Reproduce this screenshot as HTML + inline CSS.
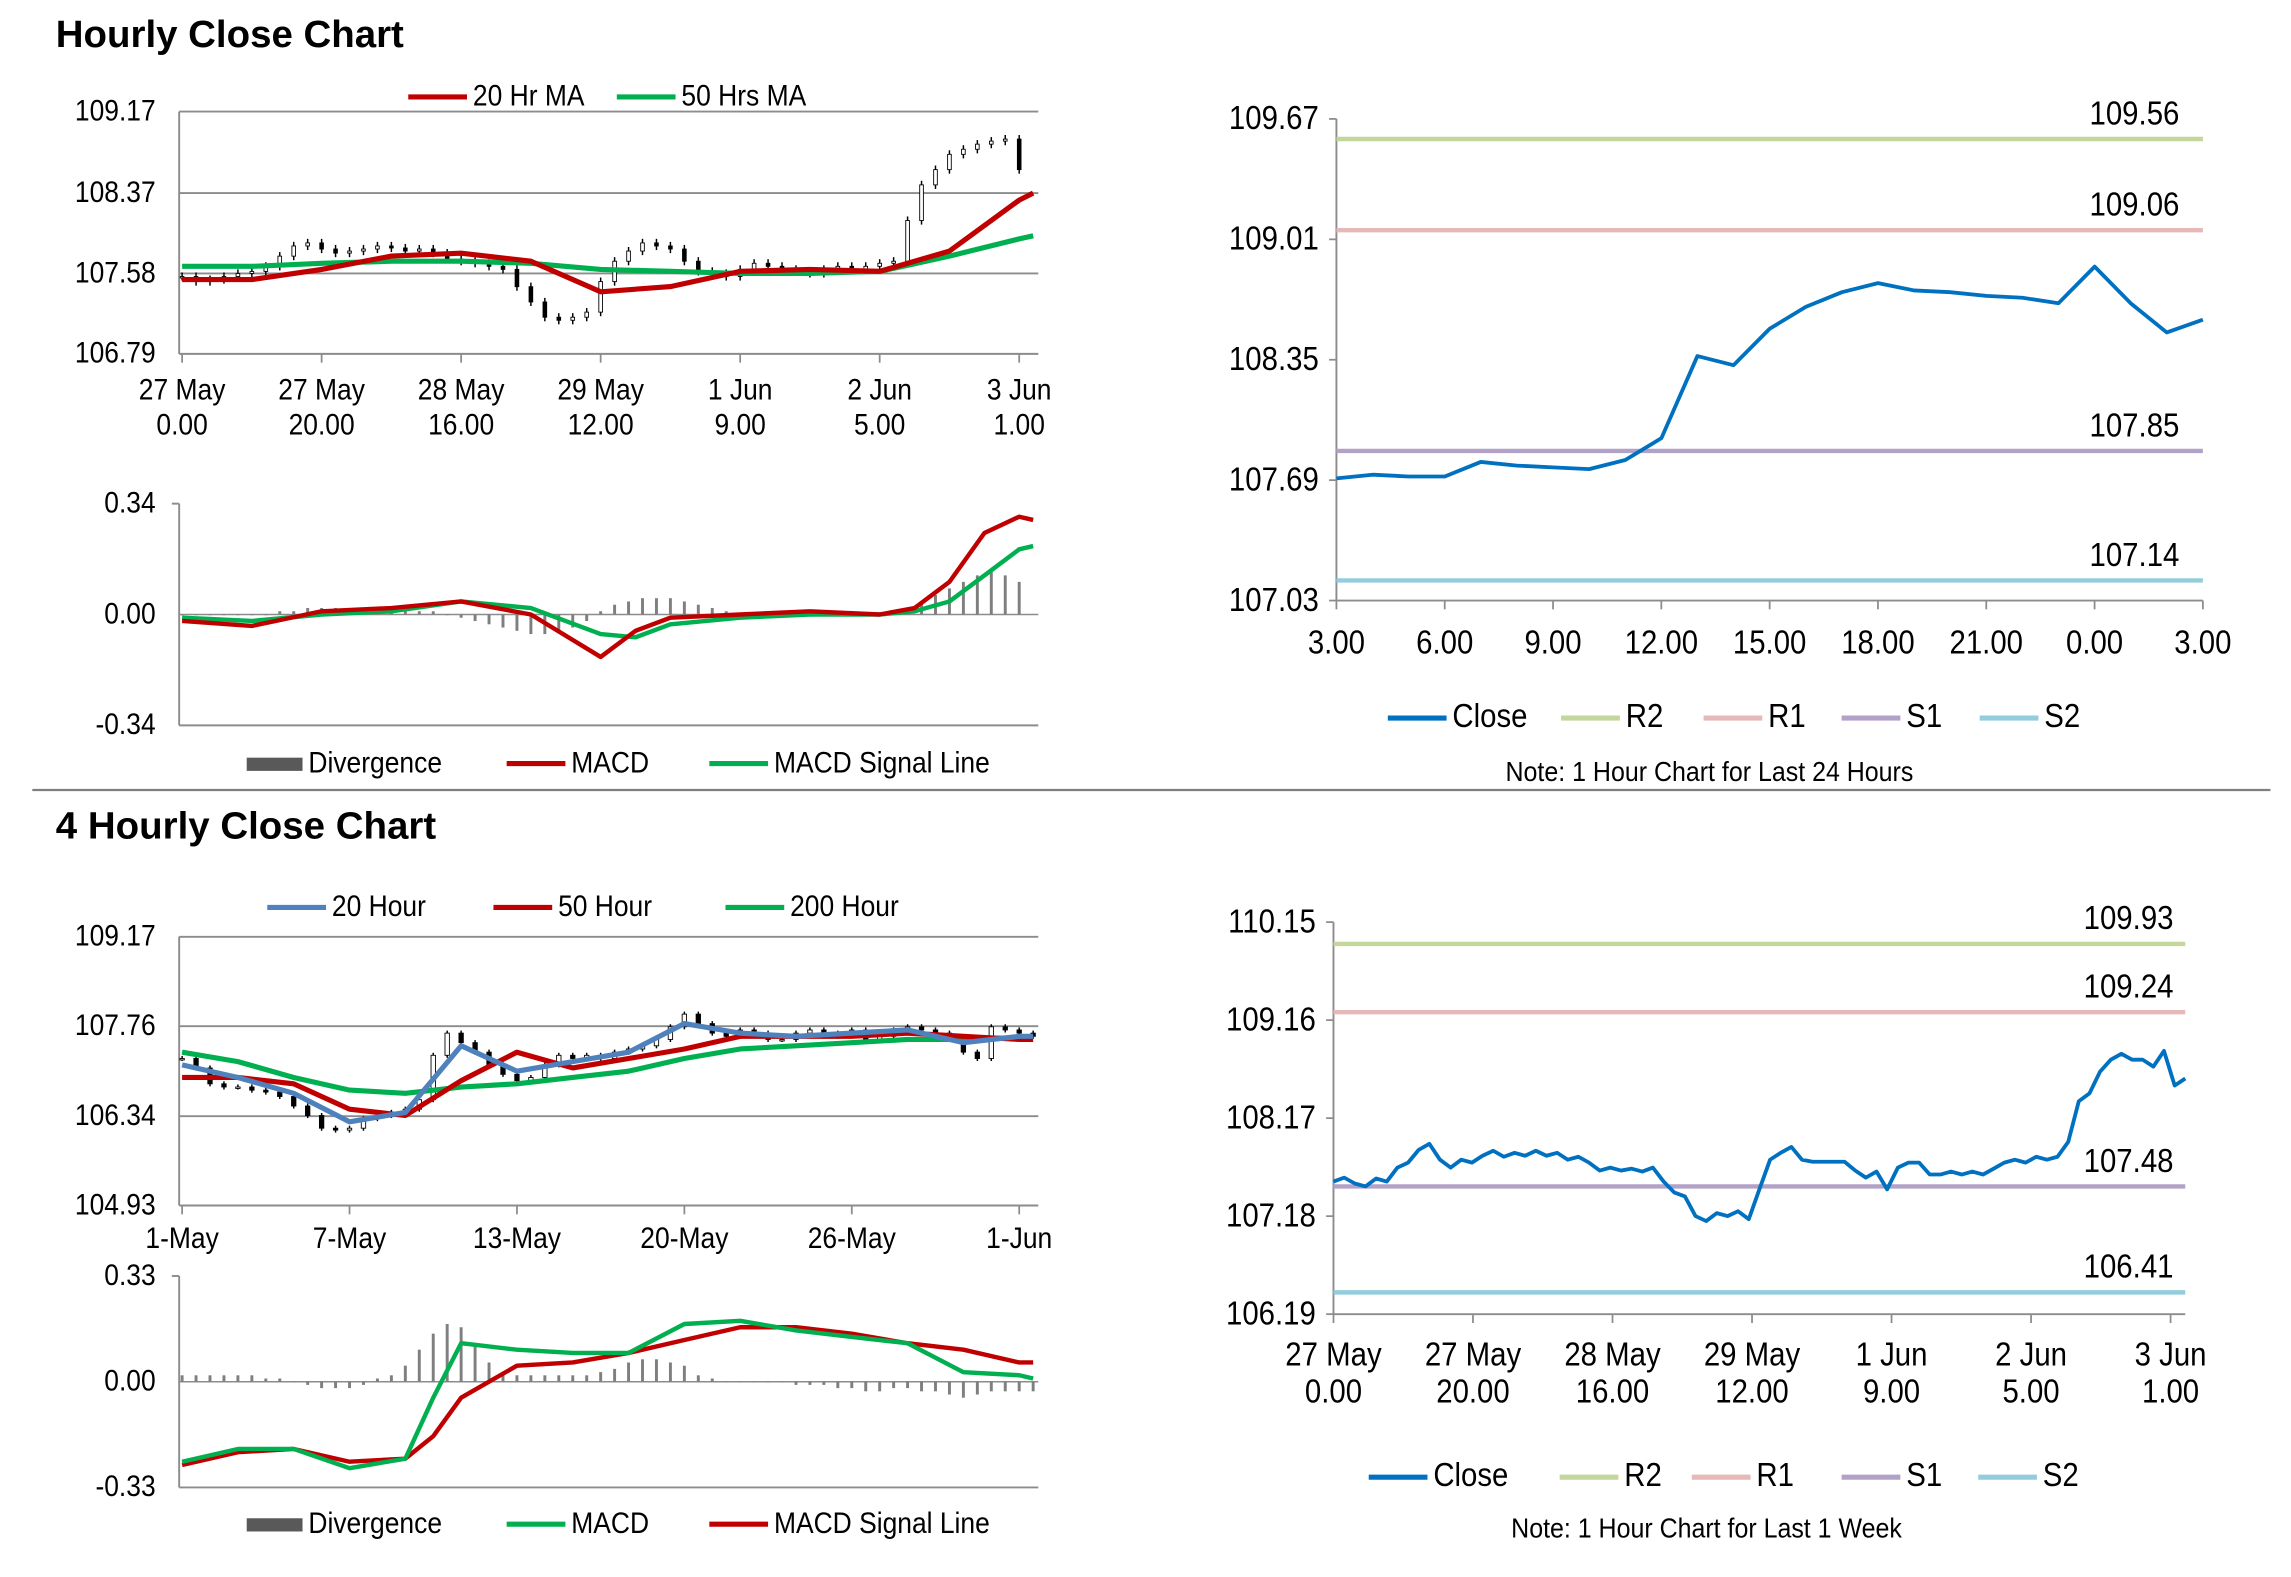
<!DOCTYPE html>
<html><head><meta charset="utf-8"><style>
html,body{margin:0;padding:0;background:#fff;}
svg{display:block;font-family:"Liberation Sans Narrow","Liberation Sans",Arial,sans-serif;}
</style></head><body>
<svg id="root" width="2291" height="1577" viewBox="0 0 1560 1074" preserveAspectRatio="none" xmlns="http://www.w3.org/2000/svg"></svg>
<script>
// ---- Hourly close chart (top-left) ----
const hcClose=[107.55,107.50,107.52,107.55,107.58,107.60,107.65,107.75,107.85,107.88,107.82,107.78,107.80,107.82,107.85,107.83,107.80,107.82,107.78,107.72,107.70,107.68,107.65,107.62,107.45,107.30,107.15,107.12,107.15,107.20,107.50,107.70,107.80,107.88,107.85,107.82,107.70,107.60,107.58,107.55,107.62,107.68,107.65,107.62,107.60,107.58,107.62,107.65,107.62,107.65,107.68,107.70,108.10,108.45,108.60,108.75,108.80,108.85,108.88,108.90,108.60];
const hcMaHours=[0,10,20,30,40,50,60,70,80,90,100,110,120,122];
const hcMa20=[107.52,107.52,107.62,107.75,107.78,107.70,107.40,107.45,107.60,107.62,107.60,107.80,108.30,108.37];
const hcMa50=[107.65,107.65,107.68,107.70,107.70,107.68,107.62,107.60,107.58,107.58,107.60,107.75,107.92,107.95];
const hcYTicks=[109.17,108.37,107.58,106.79];
const hcXLabels=[["27 May","0.00"],["27 May","20.00"],["28 May","16.00"],["29 May","12.00"],["1 Jun","9.00"],["2 Jun","5.00"],["3 Jun","1.00"]];
const hcXLabelHours=[0,20,40,60,80,100,120];
// ---- Hourly MACD ----
const hmHours=[0,10,20,30,40,50,60,65,70,80,90,100,105,110,115,120,122];
const hmMacd=[-0.02,-0.035,0.01,0.02,0.04,0.0,-0.13,-0.05,-0.01,0.0,0.01,0.0,0.02,0.10,0.25,0.30,0.29];
const hmSignal=[-0.01,-0.02,0.0,0.01,0.04,0.02,-0.06,-0.07,-0.03,-0.01,0.0,0.0,0.01,0.04,0.12,0.20,0.21];
const hmDiv=[0,0,0,0,0,0,0,0.01,0.01,0.02,0.02,0.02,0.02,0.02,0.02,0.02,0.01,0.01,0.01,0,-0.01,-0.02,-0.03,-0.04,-0.05,-0.06,-0.06,-0.05,-0.04,-0.02,0.01,0.03,0.04,0.05,0.05,0.05,0.04,0.03,0.02,0.01,0,0,0,0,0,0,0,0,0,0,0,0.01,0.02,0.04,0.06,0.08,0.10,0.12,0.13,0.12,0.10];
const hmYTicks=[0.34,0.00,-0.34];
// ---- 24h close with pivots (top-right) ----
const dClose=[107.70,107.72,107.71,107.71,107.79,107.77,107.76,107.75,107.80,107.92,108.37,108.32,108.52,108.64,108.72,108.77,108.73,108.72,108.70,108.69,108.66,108.86,108.66,108.50,108.57];
const dXLabels=["3.00","6.00","9.00","12.00","15.00","18.00","21.00","0.00","3.00"];
const dYTicks=[109.67,109.01,108.35,107.69,107.03];
const dLevels=[109.56,109.06,107.85,107.14];
const dLevelNames=["R2","R1","S1","S2"];
// ---- 4 hourly chart (bottom-left) ----
const fhClose=[107.25,107.10,106.85,106.80,106.80,106.75,106.72,106.65,106.50,106.35,106.15,106.12,106.15,106.30,106.35,106.40,106.45,106.60,107.30,107.65,107.50,107.35,107.15,107.00,106.90,106.95,107.15,107.30,107.25,107.30,107.25,107.35,107.40,107.45,107.55,107.75,107.95,107.80,107.65,107.60,107.70,107.65,107.55,107.55,107.65,107.70,107.60,107.65,107.70,107.55,107.60,107.70,107.75,107.70,107.65,107.55,107.35,107.25,107.75,107.70,107.65,107.60];
const fhMaIdx=[0,4,8,12,16,20,24,28,32,36,40,44,48,52,56,60,61];
const fhMa20=[107.15,106.95,106.70,106.25,106.40,107.45,107.05,107.20,107.35,107.80,107.65,107.60,107.65,107.70,107.50,107.60,107.60];
const fhMa50=[106.95,106.95,106.85,106.45,106.35,106.90,107.35,107.10,107.25,107.40,107.60,107.60,107.60,107.65,107.60,107.55,107.55];
const fhMa200=[107.35,107.20,106.95,106.75,106.70,106.80,106.85,106.95,107.05,107.25,107.40,107.45,107.50,107.55,107.55,107.58,107.58];
const fhYTicks=[109.17,107.76,106.34,104.93];
const fhXLabels=["1-May","7-May","13-May","20-May","26-May","1-Jun"];
const fhXLabelIdx=[0,12,24,36,48,60];
// ---- 4 hourly MACD ----
const fmIdx=[0,4,8,12,16,18,20,24,28,32,36,40,44,48,52,56,60,61];
const fmMacd=[-0.25,-0.21,-0.21,-0.27,-0.24,-0.05,0.12,0.10,0.09,0.09,0.18,0.19,0.16,0.14,0.12,0.03,0.02,0.01];
const fmSignal=[-0.26,-0.22,-0.21,-0.25,-0.24,-0.17,-0.05,0.05,0.06,0.09,0.13,0.17,0.17,0.15,0.12,0.10,0.06,0.06];
const fmDiv=[0.02,0.02,0.02,0.02,0.02,0.02,0.01,0.01,0.0,-0.01,-0.02,-0.02,-0.02,-0.01,0.01,0.02,0.05,0.10,0.15,0.18,0.17,0.12,0.06,0.03,0.02,0.02,0.02,0.02,0.02,0.02,0.03,0.04,0.06,0.07,0.07,0.06,0.05,0.02,0.01,0.0,0.0,0.0,0.0,0.0,-0.01,-0.01,-0.01,-0.02,-0.02,-0.03,-0.03,-0.02,-0.02,-0.03,-0.03,-0.04,-0.05,-0.04,-0.03,-0.03,-0.03,-0.03];
const fmYTicks=[0.33,0.00,-0.33];
// ---- 1 week close with pivots (bottom-right) ----
const wClose=[107.53,107.57,107.51,107.48,107.56,107.53,107.67,107.72,107.85,107.91,107.75,107.67,107.75,107.72,107.79,107.84,107.78,107.82,107.79,107.84,107.79,107.82,107.75,107.78,107.72,107.64,107.67,107.64,107.66,107.63,107.67,107.53,107.42,107.38,107.18,107.13,107.21,107.18,107.23,107.15,107.45,107.75,107.82,107.88,107.75,107.73,107.73,107.73,107.73,107.64,107.57,107.63,107.45,107.67,107.72,107.72,107.60,107.60,107.63,107.60,107.63,107.60,107.66,107.72,107.75,107.72,107.78,107.75,107.78,107.93,108.34,108.42,108.64,108.76,108.82,108.76,108.76,108.69,108.85,108.50,108.57];
const wXLabels=[["27 May","0.00"],["27 May","20.00"],["28 May","16.00"],["29 May","12.00"],["1 Jun","9.00"],["2 Jun","5.00"],["3 Jun","1.00"]];
const wYTicks=[110.15,109.16,108.17,107.18,106.19];
const wLevels=[109.93,109.24,107.48,106.41];

const NS="http://www.w3.org/2000/svg";
const root=document.getElementById('root');
function mk(tag,attrs,parent){const e=document.createElementNS(NS,tag);for(const k in attrs)e.setAttribute(k,attrs[k]);(parent||root).appendChild(e);return e;}
const allTexts=[];
function txt(x,y,s,size,anchor,parent,weight){const t=mk('text',{x:x,y:y,'font-size':size,'text-anchor':anchor||'start',fill:'#000'},parent);if(weight)t.setAttribute('font-weight',weight);t.textContent=s;allTexts.push(t);return t;}
function grp(name){const g=mk('g',{});return g;}
function lin(x1,y1,x2,y2,c,w,p){return mk('line',{x1:x1,y1:y1,x2:x2,y2:y2,stroke:c,'stroke-width':w},p);}
function poly(pts,c,w,p){return mk('polyline',{points:pts.map(q=>q[0].toFixed(1)+','+q[1].toFixed(1)).join(' '),fill:'none',stroke:c,'stroke-width':w,'stroke-linejoin':'round'},p);}
function scale(d0,d1,r0,r1){return v=>r0+(v-d0)/(d1-d0)*(r1-r0);}
function legendItem(g,x,y,color,label,isBox){
  const it=mk('g',{},g);
  
  
  if(isBox)mk('rect',{x:x,y:y-4,width:38,height:9,fill:'#595959'},it);
  else lin(x,y,x+40,y,color,3.5,it);
  txt(x+(isBox?42:44),y+6,label,18,'start',it);
}
const RED='#c00000',GRN='#00b050',BLUE='#4f81bd',CL='#0070c0';
const PIV=['#c3d69b','#e6b9b8','#b3a2c7','#93cddd'];

let t1=txt(38,32,'Hourly Close Chart',26,'start',root,'bold');

let t2=txt(38,571,'4 Hourly Close Chart',26,'start',root,'bold');

let sp=lin(22,538,1546,538,'#7f7f7f',1.5);
sp=lin(22,1075,1546,1075,'#7f7f7f',1.5);

function candlePanel(name,x0,x1,y0,y1,ticks,xOfIdx,closes,cw){
  const g=grp(name);
  const ys=scale(ticks[0],ticks[ticks.length-1],y0,y1);
  ticks.forEach(t=>{lin(x0,ys(t),x1,ys(t),'#8c8c8c',1.3,g);txt(x0-16,ys(t)+6,t.toFixed(2),18,'end',g);});
  lin(x0,y0,x0,y1,'#8c8c8c',1.3,g);
  const cg=mk('g',{},g);
  closes.forEach((c,i)=>{
    const o=i?closes[i-1]:c;const x=xOfIdx(i);
    const hi=Math.max(o,c)+0.04,lo=Math.min(o,c)-0.04;
    lin(x,ys(hi),x,ys(lo),'#000',1,cg);
    const r=mk('rect',{x:x-cw/2,y:ys(Math.max(o,c)),width:cw,height:Math.max(1,Math.abs(ys(o)-ys(c))),fill:c>=o?'#fff':'#000',stroke:'#000','stroke-width':0.6},cg);
    
  });
  return {g,ys};
}
{
  const hx=h=>124+h*4.75;
  const p=candlePanel('hourly-price-chart',122,707,76,241,hcYTicks,i=>hx(i*2),hcClose,2.5);
  hcXLabelHours.forEach((h,i)=>{lin(hx(h),241,hx(h),247,'#8c8c8c',1.2,p.g);txt(hx(h),272,hcXLabels[i][0],18,'middle',p.g);txt(hx(h),296,hcXLabels[i][1],18,'middle',p.g);});
  let l=poly(hcMaHours.map((h,i)=>[hx(h),p.ys(hcMa50[i])]),GRN,3.5,p.g);
  l=poly(hcMaHours.map((h,i)=>[hx(h),p.ys(hcMa20[i])]),RED,3.5,p.g);
  const lg=grp('hourly-legend');legendItem(lg,278,66,RED,'20 Hr MA');legendItem(lg,420,66,GRN,'50 Hrs MA');
}
function macdPanel(name,x0,x1,y0,y1,ticks,xOf,idxArr,a,aC,aName,b,bC,bName,div,divX){
  const g=grp(name);
  const ys=scale(ticks[0],ticks[ticks.length-1],y0,y1);
  ticks.forEach(t=>txt(x0-16,ys(t)+6,t.toFixed(2),18,'end',g));
  lin(x0,y0,x0,y1,'#8c8c8c',1.3,g);lin(x0,y0,x0-5,y0,'#8c8c8c',1.3,g);lin(x0,y1,x1,y1,'#8c8c8c',1.3,g);
  lin(x0,ys(0),x1,ys(0),'#8c8c8c',1,g);
  const dg=mk('g',{},g);
  div.forEach((d,i)=>{const x=divX(i);const r=mk('rect',{x:x-1,y:Math.min(ys(0),ys(d)),width:2,height:Math.max(0.5,Math.abs(ys(d)-ys(0))),fill:'#7f7f7f'},dg);});
  let l=poly(idxArr.map((h,i)=>[xOf(h),ys(b[i])]),bC,3,g);
  l=poly(idxArr.map((h,i)=>[xOf(h),ys(a[i])]),aC,3,g);
  return g;
}
{
  const hx=h=>124+h*4.75;
  macdPanel('hourly-macd-chart',122,707,343,494,hmYTicks,hx,hmHours,hmMacd,RED,'macd-line',hmSignal,GRN,'macd-signal-line',hmDiv,i=>hx(i*2));
  const lg=grp('hourly-macd-legend');legendItem(lg,168,520,null,'Divergence',true);legendItem(lg,345,520,RED,'MACD');legendItem(lg,483,520,GRN,'MACD Signal Line');
}
function pivotPanel(name,x0,x1,y0,y1,ticks,closes,levels,levelLabelX){
  const g=grp(name);
  const ys=scale(ticks[0],ticks[ticks.length-1],y0,y1);
  ticks.forEach(t=>{txt(x0-12,ys(t)+7,t.toFixed(2),20,'end',g);lin(x0,ys(t),x0-5,ys(t),'#8c8c8c',1.2,g);});
  lin(x0,y0,x0,y1,'#8c8c8c',1.3,g);lin(x0,y1,x1,y1,'#8c8c8c',1.3,g);
  levels.forEach((v,i)=>{const l=lin(x0,ys(v),x1,ys(v),PIV[i],3,g);
    txt(levelLabelX,ys(v)-10,v.toFixed(2),20,'end',g);});
  const step=(x1-x0)/(closes.length-1);
  const l=poly(closes.map((c,i)=>[x0+i*step,ys(c)]),CL,2.6,g);
  return {g,ys};
}
{
  const p=pivotPanel('daily-pivot-chart',910,1500,81,409,dYTicks,dClose,dLevels,1484);
  dXLabels.forEach((s,i)=>{const x=910+i*(590/8);lin(x,409,x,415,'#8c8c8c',1.2,p.g);txt(x,445,s,20,'middle',p.g);});
  const lg=grp('daily-pivot-legend');legendItem(lg,945,489,CL,'Close');legendItem(lg,1063,489,PIV[0],'R2');legendItem(lg,1160,489,PIV[1],'R1');legendItem(lg,1254,489,PIV[2],'S1');legendItem(lg,1348,489,PIV[3],'S2');
  lg.querySelectorAll('text').forEach(t=>t.setAttribute('font-size',20));
  const n=txt(1164,532,'Note: 1 Hour Chart for Last 24 Hours',17,'middle');
}
{
  const p=pivotPanel('weekly-pivot-chart',908,1488,628,895,wYTicks,wClose,wLevels,1480);
  wXLabels.forEach((s,i)=>{const x=908+i*95;lin(x,895,x,901,'#8c8c8c',1.2,p.g);txt(x,930,s[0],20,'middle',p.g);txt(x,955,s[1],20,'middle',p.g);});
  const lg=grp('weekly-pivot-legend');legendItem(lg,932,1006,CL,'Close');legendItem(lg,1062,1006,PIV[0],'R2');legendItem(lg,1152,1006,PIV[1],'R1');legendItem(lg,1254,1006,PIV[2],'S1');legendItem(lg,1347,1006,PIV[3],'S2');
  lg.querySelectorAll('text').forEach(t=>t.setAttribute('font-size',20));
  const n=txt(1162,1047,'Note: 1 Hour Chart for Last 1 Week',17,'middle');
}
{
  const ix=i=>124+i*9.5;
  const p=candlePanel('four-hourly-price-chart',122,707,638,821,fhYTicks,ix,fhClose,3);
  fhXLabelIdx.forEach((k,i)=>{lin(ix(k),821,ix(k),827,'#8c8c8c',1.2,p.g);txt(ix(k),850,fhXLabels[i],18,'middle',p.g);});
  let l=poly(fhMaIdx.map((k,i)=>[ix(k),p.ys(fhMa200[i])]),GRN,3.5,p.g);
  l=poly(fhMaIdx.map((k,i)=>[ix(k),p.ys(fhMa50[i])]),RED,3.5,p.g);
  l=poly(fhMaIdx.map((k,i)=>[ix(k),p.ys(fhMa20[i])]),BLUE,3.5,p.g);
  const lg=grp('four-hourly-legend');legendItem(lg,182,618,BLUE,'20 Hour');legendItem(lg,336,618,RED,'50 Hour');legendItem(lg,494,618,GRN,'200 Hour');
  macdPanel('four-hourly-macd-chart',122,707,869,1013,fmYTicks,ix,fmIdx,fmMacd,GRN,'macd-line',fmSignal,RED,'macd-signal-line',fmDiv,ix);
  const lg2=grp('four-hourly-macd-legend');legendItem(lg2,168,1038,null,'Divergence',true);legendItem(lg2,345,1038,GRN,'MACD');legendItem(lg2,483,1038,RED,'MACD Signal Line');
}
// Narrow-font emulation: taller glyphs, same width
allTexts.forEach(t=>{
  if(t===t1||t===t2)return;
  const w=t.getComputedTextLength();
  const fs=parseFloat(t.getAttribute('font-size'));
  t.setAttribute('font-size',(fs*1.12).toFixed(1));
  t.setAttribute('textLength',w.toFixed(1));
  t.setAttribute('lengthAdjust','spacingAndGlyphs');
});
t1.setAttribute('textLength',237);t1.setAttribute('lengthAdjust','spacingAndGlyphs');
t2.setAttribute('textLength',259);t2.setAttribute('lengthAdjust','spacingAndGlyphs');
</script>
</body></html>
